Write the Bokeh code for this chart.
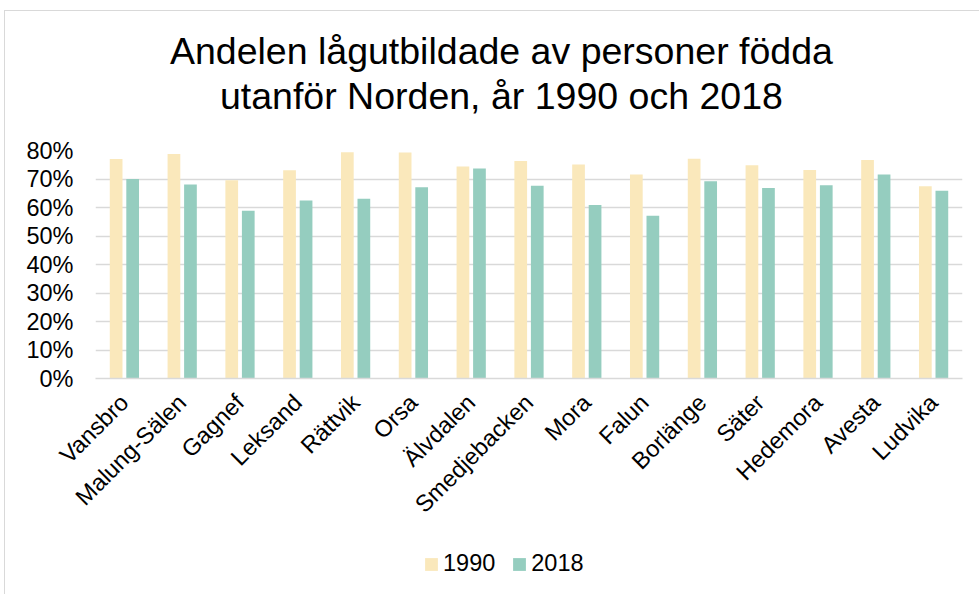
from bokeh.plotting import figure
from bokeh.layouts import column
from bokeh.models import (ColumnDataSource, FactorRange, Range1d, NumeralTickFormatter, FixedTicker,
                          Legend, LegendItem, Label)
from bokeh.transform import dodge
from bokeh.embed import file_html
from bokeh.resources import INLINE
import math

kommuner = ["Vansbro", "Malung-Sälen", "Gagnef", "Leksand", "Rättvik", "Orsa", "Älvdalen",
            "Smedjebacken", "Mora", "Falun", "Borlänge", "Säter", "Hedemora", "Avesta", "Ludvika"]
andel_1990 = [77.0, 78.8, 69.6, 73.1, 79.4, 79.3, 74.4, 76.3, 75.1, 71.6, 77.1, 74.8, 73.2, 76.7, 67.5]
andel_2018 = [70.0, 68.1, 58.9, 62.5, 63.1, 67.1, 73.7, 67.6, 60.9, 57.1, 69.2, 66.8, 67.8, 71.6, 65.9]
y_ticks = [0.0, 0.1, 0.2, 0.3, 0.4, 0.5, 0.6, 0.7, 0.8]
title_lines = ["Andelen lågutbildade av personer födda", "utanför Norden, år 1990 och 2018"]
series = ["1990", "2018"]

FONT = "Liberation Sans"
C1990 = "#FAE8BB"
C2018 = "#95CDBF"
GRID = "#d9d9d9"
W = 974


def blank(height):
    f = figure(width=W, height=height, output_backend="svg", toolbar_location=None,
               x_range=Range1d(0, W), y_range=Range1d(0, height),
               x_axis_location=None, y_axis_location=None,
               min_border_left=0, min_border_right=0, min_border_top=0, min_border_bottom=0)
    f.grid.visible = False
    f.outline_line_color = None
    return f


# --- title block ---
pt = blank(110)
for txt, yy in zip(title_lines, [71, 25.5]):
    pt.add_layout(Label(x=456, y=yy, text=txt, text_align="center", text_baseline="alphabetic",
                        text_font=FONT, text_font_size="37.5px", text_color="#000000"))

# --- main chart ---
src = ColumnDataSource(dict(
    k=kommuner,
    v1990=[v / 100 for v in andel_1990],
    v2018=[v / 100 for v in andel_2018],
))

p = figure(width=W, height=422, output_backend="svg", toolbar_location=None,
           x_range=FactorRange(factors=kommuner, range_padding=0),
           y_range=Range1d(0, 0.8),
           min_border_left=90, min_border_right=17, min_border_top=29, min_border_bottom=165)

p.vbar(x=dodge("k", -0.143, range=p.x_range), top="v1990", width=0.22, source=src,
       fill_color=C1990, line_color=None)
p.vbar(x=dodge("k", 0.143, range=p.x_range), top="v2018", width=0.22, source=src,
       fill_color=C2018, line_color=None)

p.outline_line_color = None
p.xgrid.grid_line_color = None
p.ygrid.grid_line_color = GRID
p.ygrid.grid_line_width = 1.3
p.yaxis.ticker = FixedTicker(ticks=y_ticks)
p.yaxis.formatter = NumeralTickFormatter(format="0%")
p.yaxis.axis_line_color = None
p.yaxis.major_tick_line_color = None
p.yaxis.minor_tick_line_color = None
p.yaxis.major_tick_out = 0
p.yaxis.major_tick_in = 0
p.yaxis.major_label_text_font = FONT
p.yaxis.major_label_text_font_size = "23.5px"
p.yaxis.major_label_text_color = "#000000"
p.yaxis.major_label_standoff = 22

p.xaxis.axis_line_color = GRID
p.xaxis.axis_line_width = 1.3
p.xaxis.major_tick_line_color = None
p.xaxis.minor_tick_line_color = None
p.xaxis.major_tick_out = 0
p.xaxis.major_tick_in = 0
p.xaxis.major_label_orientation = math.pi / 4
p.xaxis.major_label_text_font = FONT
p.xaxis.major_label_text_font_size = "23.5px"
p.xaxis.major_label_text_color = "#000000"
p.xaxis.major_label_standoff = 20

# --- legend block ---
pl = blank(51)
hidden = ColumnDataSource(dict(x=[-1000], top=[-1000]))
lr1 = pl.vbar(x="x", top="top", width=1, source=hidden, fill_color=C1990, line_color=None)
lr2 = pl.vbar(x="x", top="top", width=1, source=hidden, fill_color=C2018, line_color=None)
legend = Legend(items=[LegendItem(label=series[0], renderers=[lr1]), LegendItem(label=series[1], renderers=[lr2])],
                orientation="horizontal", location=(328, 17),
                glyph_width=16, glyph_height=16, label_standoff=4, spacing=16,
                label_text_font=FONT, label_text_font_size="23.5px", label_text_color="#000000",
                border_line_color=None, background_fill_alpha=0, padding=0, margin=0)
pl.add_layout(legend, "center")

page = column(pt, p, pl, spacing=0)
page.styles = {"border-left": "1px solid #d9d9d9", "border-top": "1px solid #d9d9d9",
               "margin-left": "4px", "margin-top": "10px"}

open("out.html", "w").write(file_html(page, INLINE))
